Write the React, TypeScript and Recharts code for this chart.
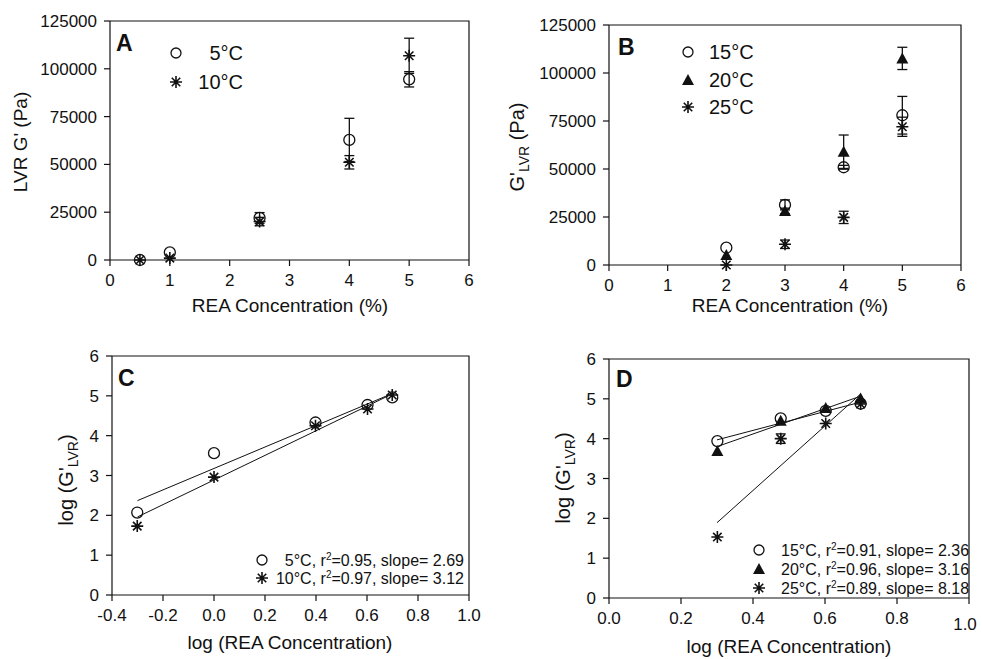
import React from "react";
import { ScatterChart, Scatter, XAxis, YAxis, ErrorBar } from "recharts";

const FONT = "'Liberation Sans', Arial, Helvetica, sans-serif";
const INK = "#111";

// Panel A: LVR G' (Pa) vs REA concentration (%), 5 and 10 °C
const concA = [0.5, 1, 2.5, 4, 5];
const gA5 = [0, 4000, 22000, 62800, 94500];
const errA5 = [0, 0, 2800, 11300, 4000];
const gA10 = [0, 1000, 20100, 51100, 106800];
const errA10 = [0, 0, 2200, 3500, 9200];

// Panel B: 15, 20, 25 °C
const concB = [2, 3, 4, 5];
const gB15 = [9000, 31300, 50900, 78000];
const errB15 = [0, 2600, 1000, 9800];
const gB20 = [5200, 28100, 59000, 107600];
const errB20 = [0, 1500, 8700, 5800];
const gB25 = [0, 10800, 24800, 72000];
const errB25 = [0, 2200, 3200, 5000];

// Panel C: log-log, 5 and 10 °C, with fitted lines (end points)
const logConcC = [-0.301, 0, 0.398, 0.602, 0.699];
const logGC5 = [2.07, 3.56, 4.33, 4.77, 4.96];
const logGC10 = [1.73, 2.96, 4.25, 4.67, 5.02];
const fitXC = [-0.3, 0.7];
const fitC5 = [2.37, 5.06];
const fitC10 = [1.96, 5.05];

// Panel D: log-log, 15, 20, 25 °C
const logConcD = [0.301, 0.477, 0.602, 0.699];
const logGD15 = [3.94, 4.51, 4.7, 4.88];
const logGD20 = [3.69, 4.45, 4.77, 5.01];
const logGD25 = [1.53, 4.0, 4.38, 4.87];
const errD25 = [0, 0.12, 0, 0];
const fitXD = [0.3, 0.7];
const fitD15 = [3.97, 4.92];
const fitD20 = [3.8, 5.07];
const fitD25 = [1.89, 5.13];

const concTicks = [0, 1, 2, 3, 4, 5, 6];
const gTicks = [0, 25000, 50000, 75000, 100000, 125000];
const logGTicks = [0, 1, 2, 3, 4, 5, 6];
const logConcTicksC = [-0.4, -0.2, 0, 0.2, 0.4, 0.6, 0.8, 1.0];
const logConcTicksD = [0, 0.2, 0.4, 0.6, 0.8, 1.0];

const pts = (xs: number[], ys: number[], errs?: number[]) =>
  xs.map((x, i) => ({ x, y: ys[i], err: errs && errs[i] ? errs[i] : undefined }));

const OpenCircle = (p: any) => (
  <circle cx={p.cx} cy={p.cy} r={p.r ?? 5.5} fill="none" stroke={INK} strokeWidth={1.3} />
);
const Triangle = (p: any) => (
  <path d={`M${p.cx},${p.cy - 6}L${p.cx + 6},${p.cy + 5}L${p.cx - 6},${p.cy + 5}Z`} fill={INK} />
);
const Star = (p: any) => {
  const r = 6;
  const d = [0, 45, 90, 135]
    .map((a) => {
      const t = (a * Math.PI) / 180;
      const dx = r * Math.cos(t);
      const dy = r * Math.sin(t);
      return `M${p.cx - dx},${p.cy - dy}L${p.cx + dx},${p.cy + dy}`;
    })
    .join("");
  return <path d={d} stroke={INK} strokeWidth={1.6} fill="none" />;
};
const NoDot = () => <g />;

const Y_W = 70;
const X_H = 30;

// panel placement on the page
const layout = {
  A: { left: 0, top: 0, w: 491, h: 330, m: { top: 21, right: 22, left: 40, bottom: 40 } },
  B: { left: 491, top: 0, w: 491, h: 330, m: { top: 25, right: 21, left: 48, bottom: 35 } },
  C: { left: 0, top: 330, w: 491, h: 329, m: { top: 26, right: 22, left: 42, bottom: 34 } },
  D: { left: 491, top: 330, w: 491, h: 329, m: { top: 29, right: 13, left: 48, bottom: 31 } },
};

const axisCommon = {
  type: "number" as const,
  axisLine: { stroke: INK, strokeWidth: 1.2 },
  tickLine: { stroke: INK, strokeWidth: 1.2 },
  tickSize: 6,
  tick: { fill: INK, fontSize: 17, fontFamily: FONT },
  interval: 0 as const,
};

const errBar = <ErrorBar dataKey="err" direction="y" width={5} stroke={INK} strokeWidth={1.3} />;
const fitLine = { stroke: INK, strokeWidth: 1 };

function Panel({ p, children }: { p: (typeof layout)["A"]; children: any }) {
  return (
    <div style={{ position: "absolute", left: p.left, top: p.top, width: p.w, height: p.h }}>
      <ScatterChart width={p.w} height={p.h} margin={p.m}>{children}</ScatterChart>
    </div>
  );
}

// top and right edges of a panel's plot box
function BoxEdges({ p }: { p: (typeof layout)["A"] }) {
  const x0 = p.left + p.m.left + Y_W;
  const x1 = p.left + p.w - p.m.right;
  const y0 = p.top + p.m.top;
  const y1 = p.top + p.h - p.m.bottom - X_H;
  return <path d={`M${x0},${y0}H${x1}V${y1}`} fill="none" stroke={INK} strokeWidth={1.2} />;
}

const DTick = (p: any) => {
  const v = p.payload.value;
  const last = v === 1;
  return (
    <text x={p.x + (last ? -4 : 0)} y={p.y + (last ? 6 : 0)} dy="0.71em" textAnchor="middle" fill={INK} fontSize={17} fontFamily={FONT}>
      {v.toFixed(1)}
    </text>
  );
};

const LegendLine = ({ x, y, anchor, t, r2, slope }: any) => (
  <text x={x} y={y} textAnchor={anchor} fontSize={16}>
    {t}, r<tspan fontSize={10} dy={-6}>2</tspan>
    <tspan dy={6}>={r2}, slope= {slope}</tspan>
  </text>
);

export default function App() {
  return (
    <div style={{ position: "absolute", left: 0, top: 0, width: 982, height: 659, background: "#fff" }}>
      <Panel p={layout.A}>
        <XAxis {...axisCommon} dataKey="x" domain={[0, 6]} ticks={concTicks} height={X_H} tickMargin={8} />
        <YAxis {...axisCommon} dataKey="y" domain={[0, 125000]} ticks={gTicks} width={Y_W} tickMargin={7} />
        <Scatter data={pts(concA, gA5, errA5)} shape={OpenCircle} isAnimationActive={false}>{errBar}</Scatter>
        <Scatter data={pts(concA, gA10, errA10)} shape={Star} isAnimationActive={false}>{errBar}</Scatter>
      </Panel>

      <Panel p={layout.B}>
        <XAxis {...axisCommon} dataKey="x" domain={[0, 6]} ticks={concTicks} height={X_H} tickMargin={8} />
        <YAxis {...axisCommon} dataKey="y" domain={[0, 125000]} ticks={gTicks} width={Y_W} tickMargin={7} />
        <Scatter data={pts(concB, gB15, errB15)} shape={OpenCircle} isAnimationActive={false}>{errBar}</Scatter>
        <Scatter data={pts(concB, gB20, errB20)} shape={Triangle} isAnimationActive={false}>{errBar}</Scatter>
        <Scatter data={pts(concB, gB25, errB25)} shape={Star} isAnimationActive={false}>{errBar}</Scatter>
      </Panel>

      <Panel p={layout.C}>
        <XAxis {...axisCommon} dataKey="x" domain={[-0.4, 1.0]} ticks={logConcTicksC} height={X_H} tickMargin={8}
          tickFormatter={(v: number) => v.toFixed(1)} />
        <YAxis {...axisCommon} dataKey="y" domain={[0, 6]} ticks={logGTicks} width={Y_W} tickMargin={7} />
        <Scatter data={pts(fitXC, fitC5)} shape={NoDot} line={fitLine} isAnimationActive={false} />
        <Scatter data={pts(fitXC, fitC10)} shape={NoDot} line={fitLine} isAnimationActive={false} />
        <Scatter data={pts(logConcC, logGC5)} shape={OpenCircle} isAnimationActive={false} />
        <Scatter data={pts(logConcC, logGC10)} shape={Star} isAnimationActive={false} />
      </Panel>

      <Panel p={layout.D}>
        <XAxis {...axisCommon} dataKey="x" domain={[0, 1.0]} ticks={logConcTicksD} height={X_H} tickMargin={8} tick={DTick} />
        <YAxis {...axisCommon} dataKey="y" domain={[0, 6]} ticks={logGTicks} width={Y_W} tickMargin={7} />
        <Scatter data={pts(fitXD, fitD15)} shape={NoDot} line={fitLine} isAnimationActive={false} />
        <Scatter data={pts(fitXD, fitD20)} shape={NoDot} line={fitLine} isAnimationActive={false} />
        <Scatter data={pts(fitXD, fitD25)} shape={NoDot} line={fitLine} isAnimationActive={false} />
        <Scatter data={pts(logConcD, logGD15)} shape={OpenCircle} isAnimationActive={false} />
        <Scatter data={pts(logConcD, logGD20)} shape={Triangle} isAnimationActive={false} />
        <Scatter data={pts(logConcD, logGD25, errD25)} shape={Star} isAnimationActive={false}>{errBar}</Scatter>
      </Panel>

      {/* box edges, titles, panel letters and legends */}
      <svg width={982} height={659} style={{ position: "absolute", left: 0, top: 0, pointerEvents: "none" }} fontFamily={FONT} fill={INK}>
        <BoxEdges p={layout.A} />
        <BoxEdges p={layout.B} />
        <BoxEdges p={layout.C} />
        <BoxEdges p={layout.D} />

        <text x={116} y={51} fontSize={23} fontWeight="bold">A</text>
        <text x={618} y={55} fontSize={23} fontWeight="bold">B</text>
        <text x={118} y={386} fontSize={23} fontWeight="bold">C</text>
        <text x={616} y={387} fontSize={23} fontWeight="bold">D</text>

        <text transform="translate(27,142) rotate(-90)" textAnchor="middle" fontSize={19}>LVR G' (Pa)</text>
        <text x={290} y={312} textAnchor="middle" fontSize={19}>REA Concentration (%)</text>

        <text transform="translate(524,147) rotate(-90)" textAnchor="middle" fontSize={20}>
          G'<tspan fontSize={14} dy={5}>LVR</tspan><tspan dy={-5}> (Pa)</tspan>
        </text>
        <text x={790} y={312} textAnchor="middle" fontSize={19}>REA Concentration (%)</text>

        <text transform="translate(73,480) rotate(-90)" textAnchor="middle" fontSize={20}>
          log (G'<tspan fontSize={14} dy={5}>LVR</tspan><tspan dy={-5}>)</tspan>
        </text>
        <text x={290} y={649} textAnchor="middle" fontSize={19}>log (REA Concentration)</text>

        <text transform="translate(570,478) rotate(-90)" textAnchor="middle" fontSize={20}>
          log (G'<tspan fontSize={14} dy={5}>LVR</tspan><tspan dy={-5}>)</tspan>
        </text>
        <text x={789} y={653} textAnchor="middle" fontSize={19}>log (REA Concentration)</text>

        {/* legend A */}
        <OpenCircle cx={176} cy={53} r={5} />
        <Star cx={176} cy={82} />
        <text x={243} y={60} textAnchor="end" fontSize={20}>5°C</text>
        <text x={243} y={89} textAnchor="end" fontSize={20}>10°C</text>

        {/* legend B */}
        <OpenCircle cx={688} cy={52} r={5} />
        <Triangle cx={688} cy={80} />
        <Star cx={688} cy={107} />
        <text x={709} y={59} fontSize={20}>15°C</text>
        <text x={709} y={87} fontSize={20}>20°C</text>
        <text x={709} y={114} fontSize={20}>25°C</text>

        {/* legend C */}
        <OpenCircle cx={262} cy={560} r={5} />
        <Star cx={262} cy={578} />
        <LegendLine x={464} y={566} anchor="end" t="5°C" r2="0.95" slope="2.69" />
        <LegendLine x={464} y={584} anchor="end" t="10°C" r2="0.97" slope="3.12" />

        {/* legend D */}
        <OpenCircle cx={759} cy={550} r={5} />
        <Triangle cx={759} cy={569} />
        <Star cx={759} cy={588} />
        <LegendLine x={781} y={556} anchor="start" t="15°C" r2="0.91" slope="2.36" />
        <LegendLine x={781} y={575} anchor="start" t="20°C" r2="0.96" slope="3.16" />
        <LegendLine x={781} y={594} anchor="start" t="25°C" r2="0.89" slope="8.18" />
      </svg>
    </div>
  );
}
